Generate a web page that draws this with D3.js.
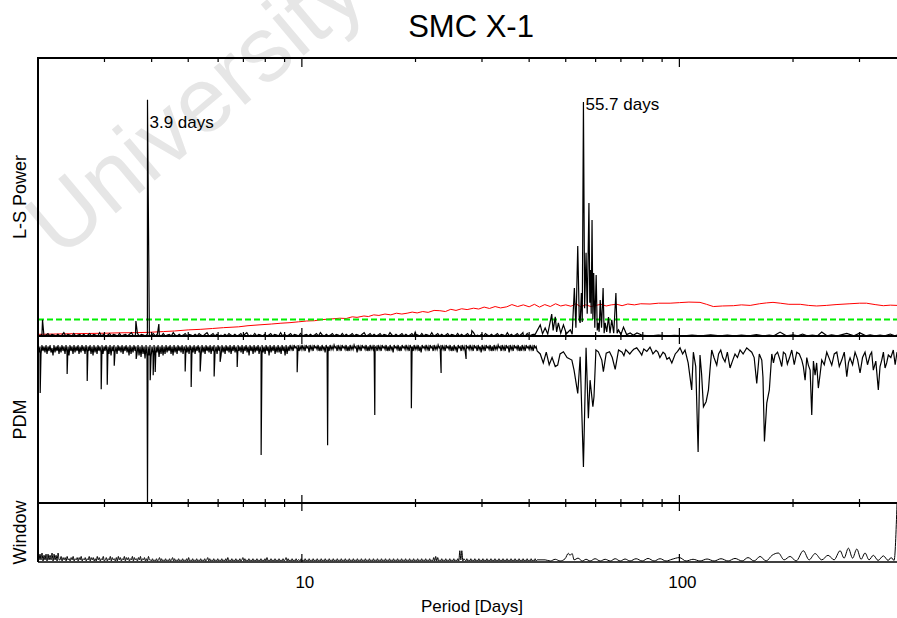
<!DOCTYPE html>
<html>
<head>
<meta charset="utf-8">
<script src="https://cdn.jsdelivr.net/npm/d3@7"></script>
<style>
  body { margin: 0; background: #fff; }
  svg { font-family: "Liberation Sans", Arial, sans-serif; }
</style>
</head>
<body>
<div id="chart"></div>
<script>
"use strict";

var chartTitle = "SMC X-1";
var watermark = "University of Cape Town";
var periodRange = [2, 377.1];
var majorTicks = [10, 100];
var minorTicks = [3, 4, 5, 6, 7, 8, 9, 20, 30, 40, 50, 60, 70, 80, 90, 200, 300];

// L-S power: dense noise (one digit per grid step, 2 -> 41 days), then the lines
var lsNoise =
  "10201302102014021030120201302104020130210301202401" +
  "30210201302103012041020130210203102401302010203102" +
  "01302401030210201302104020130210301202013041020130" +
  "21030201302102401302013021041020130201302103021040" +
  "13020130210302013024010203102013021040201302103012";
var lsSpikes = [[2.056, 5.8], [3.634, 5.4], [3.9, 85.0], [4.18, 4.3], [19.96, 1.4], [28.2, 1.9], [38.5, 1.2]];
var lsCluster = [
  [41.5, 0.6], [42.8, 4.0], [43.4, 0.8], [44.1, 2.9], [44.8, 0.7], [45.9, 7.9], [46.3, 2.0],
  [46.9, 6.9], [47.3, 1.5], [47.8, 4.7], [48.5, 1.0], [49.3, 4.0], [50.2, 0.8], [51.4, 2.2],
  [52.0, 0.6], [52.7, 17.3], [53.2, 3.0], [53.8, 32.4], [54.3, 6.0], [54.6, 4.7], [55.0, 15.5],
  [55.3, 5.0], [55.7, 84.2], [56.1, 10.0], [56.6, 29.9], [57.0, 8.0], [57.6, 47.8], [57.9, 12.0],
  [58.1, 23.7], [58.4, 8.0], [58.7, 41.7], [59.0, 6.0], [59.3, 22.7], [59.7, 3.0], [60.2, 21.9],
  [60.6, 2.0], [60.9, 4.7], [61.3, 1.5], [61.7, 12.9], [62.2, 3.0], [62.8, 17.3], [63.2, 1.0],
  [63.6, 4.7], [64.2, 1.5], [64.9, 6.8], [65.5, 1.0], [66.2, 5.8], [67.0, 1.0], [67.9, 15.5],
  [68.4, 1.0], [69.0, 2.2], [70.0, 0.5], [71.1, 3.2], [72.5, 0.5], [74.1, 1.1], [75.5, 0.3],
  [77.2, 1.1]
];
var lsTail = [
  [80, 0.2], [84, 0.05], [88, 0.3], [93, 0.05], [97, 0.25], [103, 0.05], [108, 0.3], [114, 0.05],
  [121, 0.4], [128, 0.05], [134, 0.3], [140, 0.05], [146, 0.35], [153, 0.05], [160, 0.5],
  [167, 0.05], [173, 0.3], [178, 0.05], [184.8, 1.4], [192, 0.05], [200, 0.4], [206, 0.05],
  [212, 0.7], [218, 0.05], [225, 0.3], [232, 0.05], [238.3, 1.4], [246, 0.05], [253, 0.4],
  [262, 0.05], [277.6, 0.9], [290, 0.05], [301, 1.1], [312, 0.05], [320, 0.4], [330, 0.05],
  [340, 0.3], [350, 0.05], [362, 0.7], [372, 0.1], [377.1, 0.3]
];
var lsNoiseLevel = [
  [2.0, 0.6], [2.2, 0.7], [2.43, 0.8], [2.7, 0.9], [3.0, 1.0], [3.3, 1.15], [3.6, 1.2], [3.9, 1.3],
  [4.3, 1.6], [4.6, 1.8], [5.0, 2.2], [5.4, 2.4], [5.8, 2.7], [6.2, 3.0], [6.8, 3.3], [7.2, 3.7],
  [7.7, 4.0], [8.3, 4.3], [8.8, 4.6], [9.3, 4.8], [9.8, 5.1], [10.3, 5.4], [10.8, 5.5], [11.3, 5.9],
  [11.9, 6.1], [12.6, 6.4], [13.1, 6.3], [13.6, 6.9], [14.0, 6.7], [14.6, 7.2], [15.0, 7.0],
  [15.5, 7.6], [16.0, 7.4], [16.6, 7.9], [17.2, 7.6], [17.8, 8.2], [18.4, 7.9], [19.0, 8.2],
  [19.6, 8.6], [20.2, 8.3], [20.9, 8.8], [21.6, 8.5], [22.4, 9.2], [23.2, 9.1], [24.0, 8.8],
  [24.8, 9.6], [25.6, 9.2], [26.5, 9.8], [27.4, 9.5], [28.5, 10.0], [29.4, 9.7], [30.4, 10.4],
  [31.4, 9.9], [32.5, 10.6], [33.6, 10.1], [34.9, 10.5], [36.0, 11.3], [37.3, 10.6], [38.6, 11.2],
  [40.0, 10.5], [41.3, 11.4], [42.6, 10.4], [44.0, 11.3], [45.5, 10.6], [47.0, 11.6], [48.5, 10.8],
  [50.0, 11.2], [51.6, 10.7], [53.2, 11.6], [54.8, 10.5], [56.5, 11.2], [58.3, 10.6], [60.0, 11.0],
  [62.0, 11.4], [64.0, 10.8], [66.0, 11.2], [68.3, 11.4], [70.5, 10.9], [73.0, 11.5], [76.0, 11.2],
  [79.0, 11.6], [83.6, 11.5], [88.0, 11.8], [94.5, 11.8], [100, 12.0], [106, 12.2], [113.4, 12.1],
  [118, 11.4], [123, 10.6], [130, 10.8], [139, 10.9], [146, 11.2], [154, 11.0], [163, 11.6],
  [170, 11.9], [177, 12.1], [185, 11.8], [195, 11.4], [209, 11.4], [220, 11.0], [231, 10.8],
  [245, 11.0], [260, 11.3], [283, 11.6], [300, 11.8], [313, 11.8], [330, 11.3], [347, 10.9],
  [362, 11.1], [377.1, 11.0]
];
var lsThreshold = 5.9;
var peakLabels = [
  { period: 3.9, power: 74.8, text: "3.9 days" },
  { period: 55.7, power: 81.3, text: "55.7 days" }
];

// PDM theta: band noise (2 -> 42 days), dips, and the long-period part
var pdmNoise =
  "05160415061405270514061504160517041605140615041605" +
  "14061705160415061405160714051604150614051706150416" +
  "07180619081708160715081607160514061705160415061405" +
  "16041506140517051604150614051604170516041506140516" +
  "04150614051704160514061505160417051406150516041706" +
  "14031402130413031402150314021304140315021403130214" +
  "03140213041403130215031402130414031302140314021304" +
  "14031502130414021303140214031304150213031402140313" +
  "02140314021304140315021403140213031402140315031402" +
  "13041403130214031402150314021304140314021303140214";
var pdmDips = [
  [2.027, 0.876], [2.389, 0.929], [2.70, 0.910], [2.941, 0.887], [3.051, 0.899], [3.184, 0.952],
  [3.64, 0.971], [3.9, 0.570], [3.965, 0.912], [4.038, 0.926], [4.088, 0.935], [4.908, 0.936],
  [5.091, 0.893], [5.378, 0.936], [5.856, 0.922], [6.074, 0.963], [6.74, 0.949], [7.80, 0.704],
  [9.718, 0.934], [11.70, 0.731], [15.60, 0.815], [19.50, 0.834], [23.38, 0.932], [27.23, 0.971]
];
var pdmRight = [
  [42.8, 0.985], [43.6, 0.960], [44.4, 0.990], [45.2, 0.955], [46.0, 0.975], [46.9, 0.950],
  [47.6, 0.954], [48.3, 0.985], [49.3, 0.991], [50.4, 0.975], [51.9, 0.968], [52.6, 0.940],
  [53.8, 0.875], [54.6, 0.977], [55.7, 0.670], [56.6, 1.002], [57.4, 0.806], [58.0, 0.912],
  [59.0, 0.838], [59.4, 0.866], [60.1, 0.996], [61.0, 0.991], [62.3, 0.968], [62.9, 0.936],
  [64.0, 0.987], [65.3, 0.991], [66.4, 0.975], [67.6, 0.942], [69.0, 0.996], [70.5, 0.990],
  [71.3, 0.980], [72.1, 0.997], [73.9, 0.985], [74.8, 0.992], [75.7, 0.998], [77.1, 1.002],
  [78.6, 0.990], [79.5, 0.982], [80.5, 0.999], [82.0, 0.992], [83.6, 1.004], [84.3, 0.996],
  [85.1, 0.985], [86.7, 0.995], [87.7, 0.990], [88.8, 0.975], [90.5, 0.990], [91.6, 0.985],
  [92.7, 0.970], [94.0, 0.975], [95.5, 0.960], [97.5, 0.985], [98.9, 0.992], [100.4, 1.002],
  [102.0, 0.985], [103.5, 0.996], [105.5, 0.960], [107.8, 0.885], [108.9, 0.990], [110.5, 0.950],
  [112.1, 0.712], [113.4, 0.982], [114.5, 0.930], [115.8, 0.838], [117.7, 0.852], [119.4, 0.885],
  [120.5, 0.940], [121.8, 0.996], [123.5, 0.975], [125.6, 0.954], [127.0, 0.985], [128.7, 0.996],
  [130.3, 0.975], [132.1, 0.963], [134.0, 0.990], [136.2, 0.946], [138.2, 0.965], [140.4, 0.985],
  [142.5, 0.975], [144.8, 0.996], [147.5, 0.985], [150.8, 1.002], [153.0, 0.996], [155.5, 0.990],
  [157.8, 0.975], [160.3, 0.903], [162.8, 0.985], [165.3, 0.968], [166.5, 0.920], [168.0, 0.741],
  [170.4, 0.848], [173.1, 0.885], [175.7, 0.985], [177.5, 0.960], [179.2, 0.982], [182.0, 0.990],
  [184.8, 0.968], [186.7, 0.950], [188.6, 0.990], [191.0, 0.985], [193.2, 0.957], [195.8, 0.975],
  [198.5, 0.996], [201.5, 0.955], [204.6, 0.990], [207.8, 0.985], [211.0, 0.968], [213.0, 0.950],
  [215.3, 0.912], [217.5, 0.975], [219.6, 0.954], [222.0, 0.940], [224.2, 0.815], [226.5, 0.965],
  [228.8, 0.926], [231.0, 0.960], [233.4, 0.890], [236.0, 0.930], [238.3, 0.968], [242.0, 0.955],
  [245.7, 0.990], [249.5, 0.972], [253.3, 0.954], [257.2, 0.985], [261.2, 0.990], [265.2, 0.950],
  [269.2, 0.968], [273.4, 0.990], [277.6, 0.922], [280.4, 0.960], [283.2, 0.974], [287.6, 0.955],
  [292.0, 0.990], [296.5, 0.970], [301.0, 0.932], [305.6, 0.975], [310.3, 0.990], [315.0, 0.955],
  [319.9, 0.982], [323.1, 0.990], [326.4, 0.940], [331.4, 0.965], [336.5, 0.885], [340.0, 0.950],
  [343.6, 0.968], [347.1, 0.990], [350.6, 0.946], [354.1, 0.960], [357.7, 0.982], [363.2, 0.975],
  [368.7, 0.996], [372.9, 0.955], [377.1, 0.990]
];

// spectral window
var windowNoise =
  "7161705160615170615071" +
  "140313041203140213031402130214031302041302140" +
  "130214031203041302140313021403120314021302041" +
  "1020102013020102010201302010201020102030102010201020" +
  "1020130201020102010201020301020102010201302010201020" +
  "10201020102030102010201020102013020102010201" +
  "1020102010201020102010201020102010201020" +
  "1020102010201020102010201020102010201020" +
  "1020102010201020102010201020102010201020" +
  "102010201020" +
  "1030403" + "0102010201020102010" + "2091902" +
  "1020102010201020102010201020102010201020102010201020102010201020102010201";
var windowRight = [
  [44.1, 0.02], [45.5, 0.0], [46.9, 0.03], [48.3, 0.0], [49.8, 0.04], [50.8, 0.135], [51.3, 0.10],
  [52.0, 0.13], [52.6, 0.02], [53.9, 0.05], [55.3, 0.0], [56.6, 0.03], [58.0, 0.0], [59.8, 0.04],
  [61.7, 0.0], [63.6, 0.03], [65.6, 0.0], [67.6, 0.04], [69.7, 0.0], [71.8, 0.035], [74.0, 0.0],
  [76.8, 0.04], [79.7, 0.0], [82.6, 0.045], [85.7, 0.0], [88.9, 0.04], [92.2, 0.0], [95.6, 0.03],
  [100, 0.06], [104.2, 0.0], [108.7, 0.03], [113.4, 0.0], [118.4, 0.035], [123.6, 0.0],
  [128.9, 0.04], [134.6, 0.0], [140.4, 0.045], [146.6, 0.0], [152.0, 0.06], [157.7, 0.0],
  [163.6, 0.08], [169.7, 0.0], [176.0, 0.10], [182.9, 0.14], [189.4, 0.02], [196.5, 0.08],
  [203.8, 0.0], [213.0, 0.18], [220.6, 0.02], [228.8, 0.13], [238.3, 0.02], [247.7, 0.10],
  [256.9, 0.02], [266.5, 0.18], [273.1, 0.05], [280.3, 0.225], [287.6, 0.05], [295.1, 0.21],
  [302.9, 0.03], [310.3, 0.14], [318.0, 0.02], [326.4, 0.10], [336.0, 0.01], [347.0, 0.09],
  [357.2, 0.01], [363.8, 0.06], [370.5, 0.01], [377.1, 1.0]
];

var width = 897,
  height = 618,
  plotLeft = 38,
  plotRight = 897,
  plotTop = 58,
  lsBottom = 336,
  pdmBottom = 503,
  plotBottom = 562;

var x = d3.scaleLog().domain(periodRange).range([plotLeft, plotRight]);
var yLs = d3.scaleLinear().domain([0, 100]).range([lsBottom, plotTop]);
var yPdm = d3.scaleLinear().domain([1.035, 0.57]).range([lsBottom, pdmBottom]);
var yWin = d3.scaleLinear().domain([0, 1]).range([plotBottom - 1, pdmBottom + 1]);

function noiseSeries(str, from, to, toValue) {
  var n = str.length;
  return str.split("").map(function(c, i) {
    return [from * Math.pow(to / from, i / (n - 1)), toValue(+c)];
  });
}

function byPeriod(a, b) {
  return a[0] - b[0];
}

var lsSeries = noiseSeries(lsNoise, 2, 41, function(d) { return d * 0.3; })
  .concat(lsSpikes, lsCluster, lsTail)
  .sort(byPeriod);
var pdmSeries = noiseSeries(pdmNoise, 2, 42, function(d) { return 1.01 - d * 0.0042; })
  .concat(pdmDips, pdmRight)
  .sort(byPeriod);
var winSeries = noiseSeries(windowNoise, 2, 42, function(d) { return d * 0.02; })
  .concat(windowRight)
  .sort(byPeriod);

var svg = d3
  .select("#chart")
  .append("svg")
  .attr("width", width)
  .attr("height", height);

svg
  .append("rect")
  .attr("width", width)
  .attr("height", height)
  .attr("fill", "#fff");

svg
  .append("text")
  .attr("transform", "translate(60,260) rotate(-40)")
  .attr("font-size", 92)
  .attr("fill", "#e6e6e6")
  .text(watermark);

function lineOf(y) {
  return d3
    .line()
    .x(function(d) { return x(d[0]); })
    .y(function(d) { return y(d[1]); });
}

// top panel
svg
  .append("path")
  .datum(lsNoiseLevel)
  .attr("fill", "none")
  .attr("stroke", "#ff0000")
  .attr("stroke-width", 1)
  .attr("d", lineOf(yLs));

svg
  .append("line")
  .attr("x1", x(periodRange[0]))
  .attr("x2", x(periodRange[1]))
  .attr("y1", yLs(lsThreshold))
  .attr("y2", yLs(lsThreshold))
  .attr("stroke", "#00ee00")
  .attr("stroke-width", 2)
  .attr("stroke-dasharray", "6,3");

svg
  .append("path")
  .datum(lsSeries)
  .attr("fill", "none")
  .attr("stroke", "#000")
  .attr("stroke-width", 1.2)
  .attr("d", lineOf(yLs));

svg
  .selectAll(".peak-label")
  .data(peakLabels)
  .enter()
  .append("text")
  .attr("class", "peak-label")
  .attr("x", function(d) { return x(d.period) + 2; })
  .attr("y", function(d) { return yLs(d.power); })
  .attr("font-size", 17)
  .text(function(d) { return d.text; });

// middle panel
svg
  .append("path")
  .datum(pdmSeries)
  .attr("fill", "none")
  .attr("stroke", "#000")
  .attr("stroke-width", 1.2)
  .attr("d", lineOf(yPdm));

// bottom panel
svg
  .append("path")
  .datum(winSeries)
  .attr("fill", "none")
  .attr("stroke", "#000")
  .attr("stroke-width", 1)
  .attr("d", lineOf(yWin).curve(d3.curveMonotoneX));

// frame
var frame = svg.append("g").attr("stroke", "#000");
[plotTop, lsBottom, pdmBottom].forEach(function(y) {
  frame
    .append("line")
    .attr("x1", plotLeft)
    .attr("x2", plotRight)
    .attr("y1", y)
    .attr("y2", y)
    .attr("stroke-width", 2);
});
frame
  .append("line")
  .attr("x1", plotLeft)
  .attr("x2", plotRight)
  .attr("y1", plotBottom)
  .attr("y2", plotBottom)
  .attr("stroke-width", 1.3);
frame
  .append("line")
  .attr("x1", plotLeft)
  .attr("x2", plotLeft)
  .attr("y1", plotTop - 1)
  .attr("y2", plotBottom)
  .attr("stroke-width", 2);

function ticks(values, y, up, down) {
  frame
    .selectAll(null)
    .data(values)
    .enter()
    .append("line")
    .attr("x1", function(d) { return x(d); })
    .attr("x2", function(d) { return x(d); })
    .attr("y1", y - up)
    .attr("y2", y + down)
    .attr("stroke-width", 1.2);
}

ticks(minorTicks, plotTop, 0, 4);
ticks(majorTicks, plotTop, 0, 9);
ticks(minorTicks, lsBottom, 4, 4);
ticks(majorTicks, lsBottom, 8, 8);
ticks(minorTicks, pdmBottom, 4, 4);
ticks(majorTicks, pdmBottom, 8, 8);
ticks(majorTicks, plotBottom, 8, 0);

svg
  .selectAll(".tick-label")
  .data(majorTicks)
  .enter()
  .append("text")
  .attr("class", "tick-label")
  .attr("x", function(d) { return x(d) + 3; })
  .attr("y", 588)
  .attr("text-anchor", "middle")
  .attr("font-size", 17)
  .text(function(d) { return d; });

svg
  .append("text")
  .attr("x", 472)
  .attr("y", 612)
  .attr("text-anchor", "middle")
  .attr("font-size", 17)
  .text("Period [Days]");

svg
  .append("text")
  .attr("x", 471)
  .attr("y", 37)
  .attr("text-anchor", "middle")
  .attr("font-size", 31)
  .text(chartTitle);

[["L-S Power", plotTop, lsBottom], ["PDM", lsBottom, pdmBottom], ["Window", pdmBottom, plotBottom]].forEach(function(p) {
  svg
    .append("text")
    .attr("transform", "translate(26," + (p[1] + p[2]) / 2 + ") rotate(-90)")
    .attr("text-anchor", "middle")
    .attr("font-size", 18)
    .text(p[0]);
});
</script>
</body>
</html>
